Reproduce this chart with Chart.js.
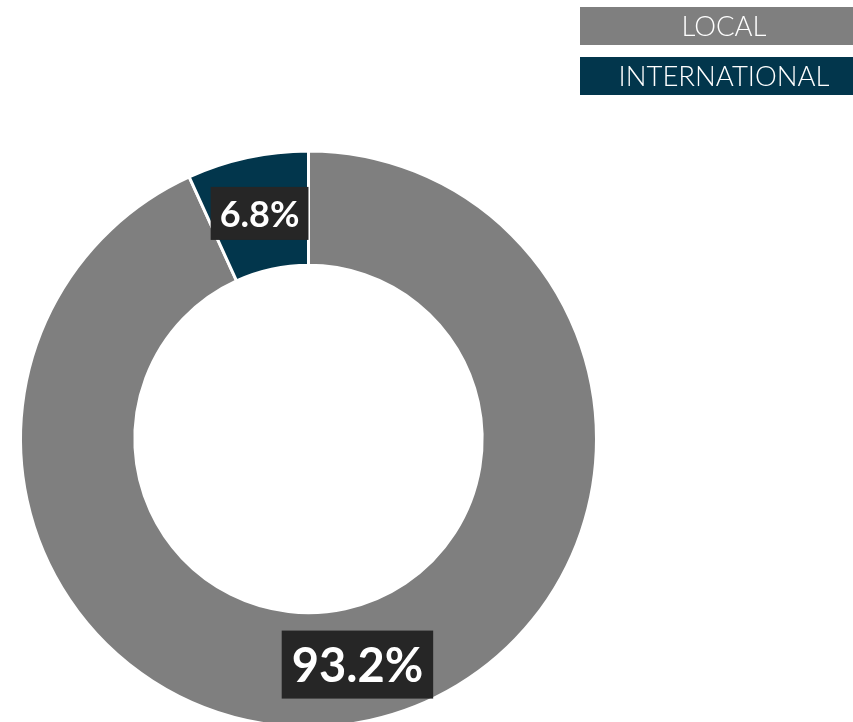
<!DOCTYPE html>
<html>
<head>
<meta charset="utf-8">
<script src="https://cdn.jsdelivr.net/npm/chart.js@4/dist/chart.umd.min.js"></script>
<style>
  html, body { margin: 0; padding: 0; background: #ffffff; overflow: hidden; width: 853px; height: 722px; }
  canvas { display: block; }
</style>
</head>
<body>
<canvas id="c" width="853" height="760"></canvas>
<script>
const categories = ['LOCAL', 'INTERNATIONAL'];
const shares = [93.2, 6.8];
const valueLabels = ['93.2%', '6.8%'];
const sliceColors = ['#7f7f7f', '#02364c'];

const boxLegend = {
  id: 'boxLegend',
  afterDraw(chart) {
    const ctx = chart.ctx;
    ctx.save();
    const x = 580, w = 273, h = 38, tops = [7, 57];
    categories.forEach((name, i) => {
      ctx.fillStyle = sliceColors[i];
      ctx.fillRect(x, tops[i], w, h);
      ctx.fillStyle = '#ffffff';
      ctx.font = '300 27.5px Lato, "Open Sans", sans-serif';
      ctx.textAlign = 'center';
      ctx.textBaseline = 'middle';
      ctx.fillText(name, 724, tops[i] + h / 2 + 1);
    });
    ctx.restore();
  }
};

const sliceLabels = {
  id: 'sliceLabels',
  afterDraw(chart) {
    const ctx = chart.ctx;
    const meta = chart.getDatasetMeta(0);
    ctx.save();
    meta.data.forEach((arc, i) => {
      const p = arc.tooltipPosition();
      const big = i === 0;
      const fs = big ? 47 : 36;
      ctx.font = 'bold ' + fs + 'px Lato, "Open Sans", sans-serif';
      const tw = ctx.measureText(valueLabels[i]).width;
      const bw = tw + (big ? 20 : 18);
      const bh = big ? 68 : 53;
      ctx.fillStyle = '#262626';
      ctx.fillRect(p.x - bw / 2, p.y - bh / 2, bw, bh);
      ctx.fillStyle = '#ffffff';
      ctx.textAlign = 'center';
      ctx.textBaseline = 'middle';
      ctx.fillText(valueLabels[i], p.x, p.y + 2);
    });
    ctx.restore();
  }
};

new Chart(document.getElementById('c'), {
  type: 'doughnut',
  data: {
    labels: categories,
    datasets: [{
      data: shares,
      backgroundColor: sliceColors,
      borderColor: '#ffffff',
      borderWidth: 3,
      hoverOffset: 0
    }]
  },
  options: {
    responsive: false,
    animation: false,
    cutout: '60.3%',
    layout: { padding: { left: 19, right: 255, top: 149.5, bottom: 31.5 } },
    plugins: {
      legend: { display: false },
      tooltip: { enabled: false }
    }
  },
  plugins: [boxLegend, sliceLabels]
});
</script>
</body>
</html>
